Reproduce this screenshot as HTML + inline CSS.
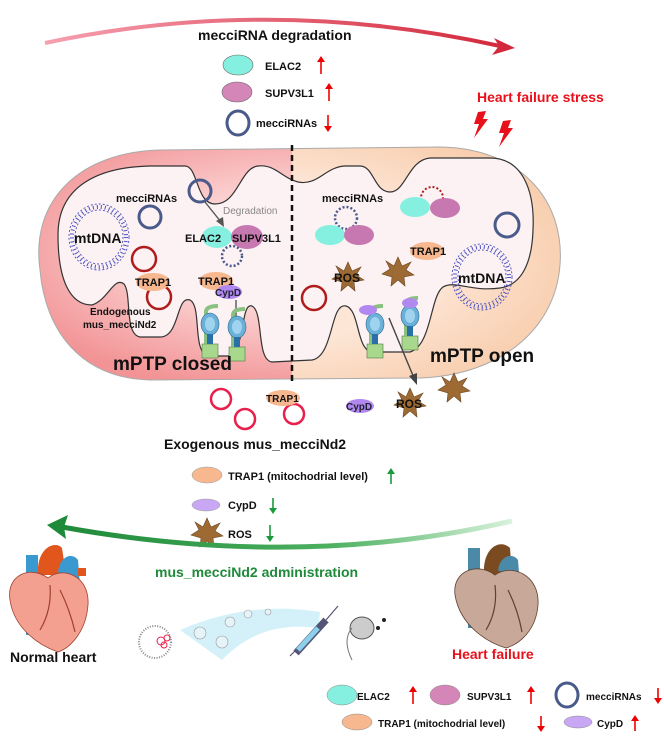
<!DOCTYPE html>
<html><head><meta charset="utf-8"><style>
html,body{margin:0;padding:0;background:#fff}
svg{display:block}
text{font-family:"Liberation Sans",Arial,sans-serif;font-weight:bold;fill:#111}
</style></head><body>
<svg width="664" height="742" viewBox="0 0 664 742" xmlns="http://www.w3.org/2000/svg">
<defs>
<linearGradient id="ta" x1="0" x2="1" y1="0" y2="0"><stop offset="0" stop-color="#f6a0b0"/><stop offset="1" stop-color="#d22a3c"/></linearGradient>
<linearGradient id="ga" x1="0" x2="1" y1="0" y2="0"><stop offset="0" stop-color="#1e8a3a"/><stop offset="0.6" stop-color="#4cb060"/><stop offset="1" stop-color="#d8f2dc"/></linearGradient>
<radialGradient id="lp" cx="0.5" cy="0.45" r="0.6"><stop offset="0.45" stop-color="#fbd0d0"/><stop offset="1" stop-color="#f29496"/></radialGradient>
<radialGradient id="rp" cx="0.4" cy="0.5" r="0.7"><stop offset="0.5" stop-color="#fde6d6"/><stop offset="1" stop-color="#f7c9a6"/></radialGradient>
<clipPath id="cl"><rect x="0" y="0" width="292" height="742"/></clipPath>
<clipPath id="cr"><rect x="292" y="0" width="400" height="742"/></clipPath>
<g id="star"><polygon points="0,-15 4,-6 13,-10 8,-2 16,3 6,5 7,14 0,8 -7,14 -6,5 -16,2 -8,-3 -12,-11 -4,-6" fill="#9c6a32" stroke="#6b4520" stroke-width="0.6"/></g>
<g id="dna" fill="none" stroke="#4a50c0" stroke-width="0.9">
<ellipse rx="30" ry="33" stroke-dasharray="2 2"/><ellipse rx="24" ry="27" stroke-dasharray="2 2"/>
<ellipse rx="27" ry="30" stroke-dasharray="1 3" stroke-width="4"/></g>
<g id="pore">
<rect x="-8" y="14" width="16" height="14" fill="#a8d88c" stroke="#4a7a40" stroke-width="0.6"/>
<path d="M-4,14 L-4,-18 Q-4,-24 8,-24" stroke="#8ac080" stroke-width="4" fill="none"/>
<ellipse cx="0" cy="-6" rx="9" ry="11" fill="#6ab0d8" stroke="#2a6a90" stroke-width="0.6"/>
<ellipse cx="0" cy="-6" rx="5" ry="7" fill="#a0d4ee"/>
<rect x="-3" y="4" width="6" height="10" fill="#2a70a8"/>
</g>
</defs>

<path d="M45,43 Q270,-5 500,46" stroke="url(#ta)" stroke-width="4" fill="none"/>
<polygon points="515,48 494,38 499,46 492,55" fill="#d22a3c"/>
<text x="198" y="40" font-size="14">mecciRNA degradation</text>
<ellipse cx="238" cy="65" rx="15" ry="10" fill="#86f0e0" stroke="#666" stroke-width="0.6"/>
<text x="265" y="70" font-size="11">ELAC2</text>
<path d="M321,74 V60" stroke="#e00" stroke-width="1.6"/><polygon points="321,56 317,62 325,62" fill="#e00"/>
<ellipse cx="237" cy="92" rx="15" ry="10" fill="#d486b8" stroke="#666" stroke-width="0.6"/>
<text x="265" y="97" font-size="11">SUPV3L1</text>
<path d="M329,101 V87" stroke="#e00" stroke-width="1.6"/><polygon points="329,83 325,89 333,89" fill="#e00"/>
<ellipse cx="238" cy="123" rx="11" ry="12" fill="none" stroke="#4a5a8a" stroke-width="3"/>
<text x="256" y="127" font-size="11">mecciRNAs</text>
<path d="M328,115 V128" stroke="#e00" stroke-width="1.6"/><polygon points="328,132 324,126 332,126" fill="#e00"/>
<text x="477" y="102" font-size="14" style="fill:#e8101a">Heart failure stress</text>
<polygon points="478,112 486,111 483,119 488,119 474,138 479,124 474,124" fill="#e8101a"/>
<polygon points="503,121 511,120 508,128 513,128 499,147 504,133 499,133" fill="#e8101a"/>

<path d="M40,270 C30,200 80,152 160,150 L440,147 C520,148 565,200 560,265 C555,330 500,375 420,378 L150,380 C80,378 45,330 40,270 Z" fill="url(#lp)" clip-path="url(#cl)"/>
<path d="M40,270 C30,200 80,152 160,150 L440,147 C520,148 565,200 560,265 C555,330 500,375 420,378 L150,380 C80,378 45,330 40,270 Z" fill="url(#rp)" clip-path="url(#cr)"/>
<path d="M40,270 C30,200 80,152 160,150 L440,147 C520,148 565,200 560,265 C555,330 500,375 420,378 L150,380 C80,378 45,330 40,270 Z" fill="none" stroke="#aaa" stroke-width="1"/>
<path d="M58,235 C58,185 100,167 150,166 L185,166 C198,166 196,204 215,204 C238,204 240,168 258,166 C275,164 282,178 298,182 C318,186 325,167 345,166 L360,166 C374,166 374,192 390,192 C406,192 408,160 430,158 L490,158 C522,158 535,190 533,230 C532,262 522,285 500,288 C470,292 455,280 443,287 C430,296 432,345 410,352 L372,352 C356,350 360,310 346,306 C330,302 334,356 312,360 L272,362 C256,360 264,312 252,306 C240,302 246,352 228,356 L208,356 C192,352 202,306 190,300 C176,295 180,337 160,337 L140,337 C124,334 132,294 124,284 C114,276 108,300 92,305 C70,305 58,280 58,235 Z" fill="#fdf2f3" stroke="#333" stroke-width="1.2"/>
<path d="M292,145 V382" stroke="#111" stroke-width="2.5" stroke-dasharray="6 4"/>

<use href="#dna" x="99" y="237"/>
<text x="74" y="243" font-size="14">mtDNA</text>
<text x="116" y="202" font-size="11">mecciRNAs</text>
<circle cx="200" cy="191" r="11" fill="none" stroke="#4a5a8a" stroke-width="3"/>
<circle cx="150" cy="217" r="11" fill="none" stroke="#4a5a8a" stroke-width="3"/>
<path d="M205,202 L221,222" stroke="#555" stroke-width="1.4"/><polygon points="224,227 216,221 223,217" fill="#555"/>
<text x="223" y="214" font-size="10" style="fill:#888;font-weight:normal">Degradation</text>
<ellipse cx="217" cy="237" rx="15" ry="11" fill="#86f0e0"/>
<ellipse cx="247" cy="237" rx="16" ry="12" fill="#c878b0"/>
<text x="185" y="242" font-size="11">ELAC2</text>
<text x="232" y="242" font-size="11">SUPV3L1</text>
<circle cx="232" cy="256" r="10" fill="none" stroke="#4a5a8a" stroke-width="2.5" stroke-dasharray="2 2"/>
<circle cx="144" cy="259" r="12" fill="none" stroke="#b01c1c" stroke-width="2.5"/>
<circle cx="159" cy="297" r="12" fill="none" stroke="#b01c1c" stroke-width="2.5"/>
<ellipse cx="153" cy="282" rx="17" ry="9" fill="#f7b890"/>
<text x="135" y="286" font-size="11">TRAP1</text>
<text x="90" y="315" font-size="10">Endogenous</text>
<text x="83" y="328" font-size="10">mus_mecciNd2</text>
<ellipse cx="216" cy="281" rx="17" ry="9" fill="#f7b890"/>
<text x="198" y="285" font-size="11">TRAP1</text>
<ellipse cx="229" cy="292" rx="13" ry="7" fill="#b088f0"/>
<text x="215" y="296" font-size="10" style="fill:#223">CypD</text>
<path d="M236,300 V320 M230,320 H242" stroke="#555" stroke-width="1.4"/>
<use href="#pore" x="210" y="330"/><use href="#pore" x="237" y="333"/>
<text x="113" y="370" font-size="19">mPTP closed</text>

<text x="322" y="202" font-size="11">mecciRNAs</text>
<circle cx="346" cy="218" r="11" fill="none" stroke="#4a5a8a" stroke-width="2.5" stroke-dasharray="2 2"/>
<ellipse cx="330" cy="235" rx="15" ry="10" fill="#86f0e0"/>
<ellipse cx="359" cy="235" rx="15" ry="10" fill="#c878b0"/>
<circle cx="432" cy="198" r="11" fill="none" stroke="#b01c1c" stroke-width="2" stroke-dasharray="2 2"/>
<ellipse cx="415" cy="207" rx="15" ry="10" fill="#86f0e0"/>
<ellipse cx="445" cy="208" rx="15" ry="10" fill="#c878b0"/>
<circle cx="507" cy="225" r="12" fill="none" stroke="#4a5a8a" stroke-width="3"/>
<ellipse cx="427" cy="251" rx="17" ry="9" fill="#f7b890"/>
<text x="410" y="255" font-size="11">TRAP1</text>
<use href="#star" x="348" y="277"/><text x="334" y="282" font-size="12">ROS</text>
<use href="#star" x="398" y="272"/>
<use href="#dna" x="482" y="277"/>
<text x="458" y="283" font-size="14">mtDNA</text>
<circle cx="314" cy="298" r="12" fill="none" stroke="#b01c1c" stroke-width="2.5"/>
<use href="#pore" x="375" y="330"/><use href="#pore" x="410" y="322"/>
<ellipse cx="368" cy="310" rx="9" ry="5" fill="#b088f0"/>
<ellipse cx="410" cy="303" rx="8" ry="5" fill="#b088f0"/>
<path d="M389,318 L414,378" stroke="#444" stroke-width="1.4"/><polygon points="417,385 409,376 417,373" fill="#444"/>
<text x="430" y="362" font-size="19">mPTP open</text>

<circle cx="221" cy="399" r="10" fill="none" stroke="#e8204c" stroke-width="2.5"/>
<circle cx="245" cy="419" r="10" fill="none" stroke="#e8204c" stroke-width="2.5"/>
<circle cx="294" cy="414" r="10" fill="none" stroke="#e8204c" stroke-width="2.5"/>
<ellipse cx="283" cy="398" rx="17" ry="8" fill="#f7b890"/>
<text x="266" y="402" font-size="10">TRAP1</text>
<ellipse cx="360" cy="406" rx="14" ry="7" fill="#b088f0"/>
<text x="346" y="410" font-size="10" style="fill:#223">CypD</text>
<use href="#star" x="410" y="403"/><text x="396" y="408" font-size="12">ROS</text>
<use href="#star" x="454" y="388"/>
<text x="164" y="449" font-size="14">Exogenous mus_mecciNd2</text>
<ellipse cx="207" cy="475" rx="15" ry="8" fill="#f7b890" stroke="#999" stroke-width="0.5"/>
<text x="228" y="480" font-size="11">TRAP1 (mitochodrial level)</text>
<path d="M391,484 V472" stroke="#1a9a3a" stroke-width="1.6"/><polygon points="391,468 387,474 395,474" fill="#1a9a3a"/>
<ellipse cx="206" cy="505" rx="14" ry="6" fill="#c8a8f4" stroke="#999" stroke-width="0.5"/>
<text x="228" y="509" font-size="11">CypD</text>
<path d="M273,498 V510" stroke="#1a9a3a" stroke-width="1.6"/><polygon points="273,514 269,508 277,508" fill="#1a9a3a"/>
<use href="#star" x="207" y="533"/>
<text x="228" y="538" font-size="11">ROS</text>
<path d="M270,525 V538" stroke="#1a9a3a" stroke-width="1.6"/><polygon points="270,542 266,536 274,536" fill="#1a9a3a"/>

<path d="M512,521 Q300,570 62,527" stroke="url(#ga)" stroke-width="5" fill="none"/>
<polygon points="47,525 68,515 64,527 66,539" fill="#1e8a3a"/>
<text x="155" y="577" font-size="14" style="fill:#1e8a3a">mus_mecciNd2 administration</text>

<!-- normal heart -->
<path d="M26,555 h12 v80 h-12 z" fill="#3a9ad0"/>
<path d="M38,575 C36,548 55,540 62,548 L66,575 Z" fill="#e0561c"/>
<path d="M58,572 C60,556 72,552 78,560 L80,585 Z" fill="#3a9ad0"/>
<path d="M78,568 h8 v8 h-8 z" fill="#e0561c"/>
<path d="M10,600 C6,575 30,565 48,578 C62,566 90,575 88,605 C86,632 70,648 58,652 C38,645 14,628 10,600 Z" fill="#f4a090" stroke="#a04030" stroke-width="0.8"/>
<path d="M50,585 Q52,610 40,630 M60,590 Q70,610 75,632" stroke="#a04030" stroke-width="1.2" fill="none"/>
<text x="10" y="662" font-size="14">Normal heart</text>
<!-- failing heart -->
<path d="M468,548 h12 v80 h-12 z" fill="#4a8aa8"/>
<path d="M484,575 C482,548 500,538 510,548 L512,575 Z" fill="#7a4a20"/>
<path d="M498,570 C500,556 512,552 518,560 L520,585 Z" fill="#4a8aa8"/>
<path d="M455,595 C452,570 478,562 495,575 C512,563 540,575 538,605 C536,630 520,644 506,648 C486,642 460,625 455,595 Z" fill="#c8a898" stroke="#604030" stroke-width="0.8"/>
<path d="M495,585 Q498,610 486,630 M508,590 Q518,610 522,632" stroke="#604030" stroke-width="1.2" fill="none"/>
<text x="452" y="659" font-size="14" style="fill:#e8101a">Heart failure</text>

<path d="M180,630 Q250,600 320,612 L318,628 Q260,620 222,660 Z" fill="#cfeff8" opacity="0.9"/>
<circle cx="155" cy="642" r="16" fill="#fff" stroke="#888" stroke-width="2" stroke-dasharray="1 1.5"/>
<circle cx="161" cy="641" r="4" fill="none" stroke="#e8204c"/><circle cx="167" cy="638" r="3" fill="none" stroke="#e8204c"/><circle cx="164" cy="645" r="3" fill="none" stroke="#e8204c"/>
<circle cx="200" cy="633" r="6" fill="#e6f4fa" stroke="#999" stroke-width="0.6"/>
<circle cx="222" cy="642" r="6" fill="#e6f4fa" stroke="#999" stroke-width="0.6"/>
<circle cx="230" cy="622" r="5" fill="#e6f4fa" stroke="#999" stroke-width="0.6"/>
<circle cx="248" cy="614" r="4" fill="#e6f4fa" stroke="#999" stroke-width="0.6"/>
<circle cx="268" cy="612" r="3" fill="#e6f4fa" stroke="#999" stroke-width="0.6"/>
<path d="M296,653 L326,620" stroke="#557" stroke-width="7"/><path d="M298,650 L318,628" stroke="#8cd0ec" stroke-width="5"/>
<path d="M290,656 L296,650 M326,620 L338,606" stroke="#557" stroke-width="1.2"/>
<ellipse cx="362" cy="628" rx="12" ry="11" fill="#ccc" stroke="#555"/>
<path d="M352,628 Q342,640 352,660" stroke="#777" fill="none"/>
<circle cx="384" cy="620" r="2" fill="#222"/><circle cx="378" cy="628" r="2" fill="#222"/>

<ellipse cx="342" cy="695" rx="15" ry="10" fill="#86f0e0" stroke="#888" stroke-width="0.5"/>
<text x="357" y="700" font-size="10">ELAC2</text>
<path d="M413,704 V690" stroke="#e00" stroke-width="1.6"/><polygon points="413,686 409,692 417,692" fill="#e00"/>
<ellipse cx="445" cy="695" rx="15" ry="10" fill="#d486b8" stroke="#888" stroke-width="0.5"/>
<text x="467" y="700" font-size="10">SUPV3L1</text>
<path d="M531,704 V690" stroke="#e00" stroke-width="1.6"/><polygon points="531,686 527,692 535,692" fill="#e00"/>
<ellipse cx="567" cy="695" rx="11" ry="12" fill="none" stroke="#4a5a8a" stroke-width="3"/>
<text x="586" y="700" font-size="10">mecciRNAs</text>
<path d="M658,688 V700" stroke="#e00" stroke-width="1.6"/><polygon points="658,704 654,698 662,698" fill="#e00"/>
<ellipse cx="357" cy="722" rx="15" ry="8" fill="#f7b890" stroke="#888" stroke-width="0.5"/>
<text x="378" y="727" font-size="10">TRAP1 (mitochodrial level)</text>
<path d="M541,716 V728" stroke="#e00" stroke-width="1.6"/><polygon points="541,732 537,726 545,726" fill="#e00"/>
<ellipse cx="578" cy="722" rx="14" ry="6" fill="#c8a8f4" stroke="#888" stroke-width="0.5"/>
<text x="597" y="727" font-size="10">CypD</text>
<path d="M635,731 V719" stroke="#e00" stroke-width="1.6"/><polygon points="635,715 631,721 639,721" fill="#e00"/>
</svg>
</body></html>
